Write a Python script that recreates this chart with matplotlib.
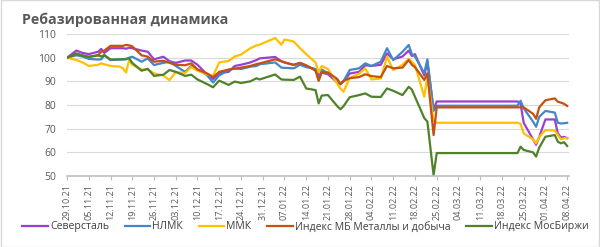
import matplotlib
matplotlib.use("Agg")
import matplotlib.pyplot as plt
import matplotlib.dates as mdates
import pandas as pd
from matplotlib.patches import Rectangle

plt.rcParams['font.family'] = ['Open Sans', 'DejaVu Sans']

# даты (торговые дни, выборочно)
dates = pd.to_datetime([
    "2021-10-29", "2021-11-01", "2021-11-03", "2021-11-05", "2021-11-08", "2021-11-09",
    "2021-11-10", "2021-11-12", "2021-11-15", "2021-11-16", "2021-11-17", "2021-11-18",
    "2021-11-19", "2021-11-22", "2021-11-24", "2021-11-26", "2021-11-29", "2021-12-01",
    "2021-12-03", "2021-12-06", "2021-12-08", "2021-12-10", "2021-12-13", "2021-12-15",
    "2021-12-17", "2021-12-20", "2021-12-22", "2021-12-24", "2021-12-27", "2021-12-29",
    "2021-12-30", "2022-01-04", "2022-01-06", "2022-01-07", "2022-01-10", "2022-01-12",
    "2022-01-14", "2022-01-17", "2022-01-18", "2022-01-19", "2022-01-21", "2022-01-24",
    "2022-01-25", "2022-01-26", "2022-01-28", "2022-01-31", "2022-02-02", "2022-02-04",
    "2022-02-07", "2022-02-09", "2022-02-11", "2022-02-14", "2022-02-16", "2022-02-17",
    "2022-02-18", "2022-02-21", "2022-02-22", "2022-02-24", "2022-02-25", "2022-03-23",
    "2022-03-24", "2022-03-25", "2022-03-28", "2022-03-29", "2022-03-30", "2022-04-01",
    "2022-04-04", "2022-04-05", "2022-04-06", "2022-04-07", "2022-04-08",
])

severstal = [100, 103, 102, 101.5, 102.5, 103.7, 102, 104, 104, 104, 103.8, 104.2, 104,
             103, 102.5, 99.3, 100.4, 98.5, 97.8, 98.8, 98.8,
             97, 93, 91, 93.5, 94, 96.5, 97, 98, 99, 99.7,
             100.3, 98.5, 98, 97, 97.8, 96.5,
             95, 92.5, 93.7, 93, 89.5, 88.8, 90, 93.3,
             94, 96.8, 96.5, 97, 101.8, 99.3, 100.5, 103, 100.7, 101.5,
             92.5, 98.3, 78, 81.5,
             81.5, 80.5, 72.5, 65.5, 63.2, 66.5, 73.9, 73.9, 68, 66.3, 66.5, 66]

nlmk = [100, 101, 100.5, 99.5, 99.2, 99.3, 101, 99, 99.2, 99.3, 99.3, 100, 100.4,
        98.3, 99.7, 96.9, 97.8, 98.3, 96.5, 94, 96.5,
        95, 92.7, 89.5, 92.5, 94.8, 95.5, 95.2, 96.2, 96.5, 97.2,
        98, 95.8, 95.7, 95.5, 97, 96,
        95.2, 90.6, 95, 93.4, 90.6, 89, 90, 94.8,
        95.5, 97.6, 96.5, 98.3, 104, 99, 102.5, 105.4, 101.5, 100.5,
        93.4, 99.3, 77.5, 79.7,
        79.7, 81.8, 78.6, 73, 70.8, 75, 77.5, 76.8, 72.5, 72.2, 72.3, 72.5]

mmk = [100, 99, 98, 96.5, 97, 97.6, 97.2, 96.5, 96.2, 95.5, 93.7, 99, 97,
       95, 95, 93.4, 92.5, 90.5, 94, 93.5, 96,
       94.5, 93, 92.3, 98, 98.6, 100.5, 101.3, 104, 105.2, 105.5,
       108.3, 105.5, 107.7, 106.8, 104, 101.5,
       98, 93.8, 96.5, 95.2, 89, 87, 85.6, 91.5,
       93.2, 95.5, 90.8, 91.2, 100.4, 94.8, 97, 99.5, 98.3, 96.9,
       83.5, 92, 73.5, 72.5,
       72.5, 72, 68, 65.5, 63.8, 66.5, 69.4, 69.2, 67.3, 65.5, 66, 65.9]

metals = [100, 101.5, 101, 100.3, 101, 102.5, 103, 105, 105, 105, 105.4, 105.2, 104.8,
          101, 100.4, 98.3, 98.7, 97.8, 97, 96.8, 97.6,
          95, 93.4, 91.8, 94, 95, 95.3, 95.8, 96.5, 97.3, 97.6,
          99.3, 98.5, 98, 96.9, 97.8, 96.8,
          94.5, 90.2, 93.8, 93.7, 91, 88.8, 90.2, 91.3,
          91.8, 93, 92.2, 91.8, 96.5, 95.5, 95.8, 99, 97, 96,
          90.6, 93.4, 67.3, 79,
          79, 79, 79, 76.3, 74.2, 79, 82, 82.8, 81.4, 81, 80.5, 79.6]

moex = [100, 101.8, 100.8, 100.4, 101, 100.5, 101.1, 99.2, 99.3, 99.3, 99.5, 99.7, 97.8,
        94.5, 95.3, 92.3, 92.8, 94.8, 94, 92.3, 92.8,
        90.8, 88.9, 87.5, 90.3, 88.5, 89.9, 89.3, 90, 91.3, 90.8,
        92.9, 90.8, 90.7, 90.6, 92, 87,
        86.3, 80.7, 84, 84.2, 79.5, 78.2, 79.5, 83.3,
        84.2, 84.9, 83.5, 83.4, 87, 86, 84.2, 87.7, 86.5, 83.5,
        74.5, 73, 50.3, 59.7,
        59.7, 62.4, 61, 60, 58.2, 62, 66.6, 67.3, 64.5, 63.8, 64.3, 62.7]

names = ["Северсталь", "НЛМК", "ММК", "Индекс МБ Металлы и добыча", "Индекс МосБиржи"]
series = [severstal, nlmk, mmk, metals, moex]
colors = ["#9A3FD0", "#4387C8", "#FFC000", "#C5500F", "#4F8229"]

fig = plt.figure(figsize=(6.0, 2.47), dpi=100)
fig.patches.append(Rectangle((0.001, 0.002), 0.997, 0.996, transform=fig.transFigure,
                             fill=False, edgecolor="#d9d9d9", linewidth=1))
ax = fig.add_axes([0.1117, 0.2874, 0.8367, 0.5749])

for name, vals, c in zip(names, series, colors):
    ax.plot(dates, vals, color=c, linewidth=1.6, label=name, solid_joinstyle="round")

ax.set_ylim(50, 110)
ax.set_yticks(range(50, 111, 10))
ax.set_xlim(dates[0], dates[-1] + pd.Timedelta(days=0.6))
ticks = pd.date_range("2021-10-29", "2022-04-08", freq="7D")
ax.set_xticks(ticks)
ax.xaxis.set_major_formatter(mdates.DateFormatter("%d.%m.%y"))

ax.grid(axis="y", color="#d9d9d9", linewidth=0.8)
ax.set_axisbelow(True)
for s in ["top", "right", "left"]:
    ax.spines[s].set_visible(False)
ax.spines["bottom"].set_color("#bfbfbf")
ax.spines["bottom"].set_linewidth(1.2)
ax.tick_params(axis="y", length=0, pad=8, labelsize=7.5, labelcolor="#595959")
ax.tick_params(axis="x", length=3, color="#bfbfbf", direction="out", pad=3,
               labelsize=6.5, labelcolor="#595959", labelrotation=90)

fig.text(0.037, 0.903, "Ребазированная динамика", fontsize=10.3, fontweight="bold",
         color="#595959")

leg = fig.legend(loc="center", bbox_to_anchor=(0.509, 0.081), ncol=5, frameon=False,
                 fontsize=7.6, handlelength=2.4, columnspacing=1.5, handletextpad=0.2,
                 borderpad=0, borderaxespad=0)
for t in leg.get_texts():
    t.set_color("#404040")

fig.savefig("out.png", dpi=100)
